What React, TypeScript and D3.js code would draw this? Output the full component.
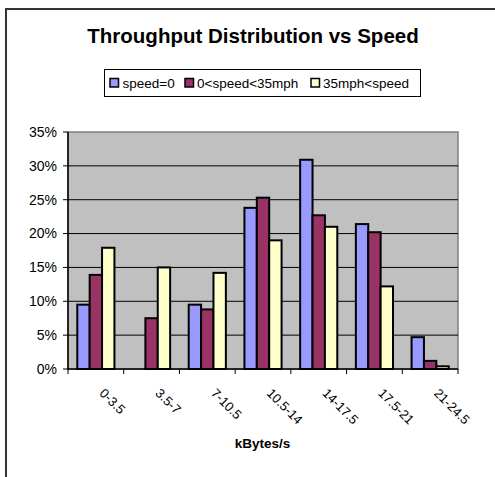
import React from "react";
import * as d3 from "d3";

const categories = ["0-3.5", "3.5-7", "7-10.5", "10.5-14", "14-17.5", "17.5-21", "21-24.5"];
const seriesNames = ["speed=0", "0<speed<35mph", "35mph<speed"];
const speed0 = [9.5, 0, 9.5, 23.8, 30.9, 21.4, 4.7];
const speedMid = [13.9, 7.5, 8.8, 25.3, 22.7, 20.2, 1.2];
const speedHigh = [17.9, 15.0, 14.2, 19.0, 21.0, 12.2, 0.4];
const seriesColors = ["#9999FF", "#993366", "#FFFFCC"];
const yTicks = [0, 5, 10, 15, 20, 25, 30, 35];

const W = 495, H = 477;
const plot = { left: 68, right: 458, top: 132, bottom: 369 };
const font = "'Liberation Sans', Arial, sans-serif";

export default function App() {
  const series = [speed0, speedMid, speedHigh];
  const x = d3.scaleBand<string>().domain(categories).range([plot.left, plot.right]).paddingInner(0).paddingOuter(0);
  const bw = x.bandwidth();
  const barW = bw / 4.5;
  const groupOffset = (bw - 3 * barW) / 2;
  const y = d3.scaleLinear().domain([0, 35]).range([plot.bottom, plot.top]);
  const boundaries = d3.range(categories.length + 1).map((i) => plot.left + i * bw);

  const legendItems = [
    { sx: 110, tx: 122.5 },
    { sx: 185, tx: 197 },
    { sx: 311, tx: 323 },
  ];

  return (
    <svg width={W} height={H} style={{ position: "absolute", left: 0, top: 0 }} fontFamily={font}>
      <rect x={0} y={0} width={W} height={H} fill="#fff" />
      <rect x={6} y={9} width={700} height={700} fill="none" stroke="#333" strokeWidth={2} />
      <text x={253} y={43} textAnchor="middle" fontSize={20.5} fontWeight="bold">Throughput Distribution vs Speed</text>

      <rect x={104.5} y={69.5} width={316} height={27} fill="#fff" stroke="#000" strokeWidth={1} />
      {legendItems.map((l, i) => (
        <g key={i}>
          <rect x={l.sx} y={78.5} width={8.5} height={8.5} fill={seriesColors[i]} stroke="#000" strokeWidth={1.5} />
          <text x={l.tx} y={87.5} fontSize={13.5}>{seriesNames[i]}</text>
        </g>
      ))}

      <rect x={plot.left} y={plot.top} width={plot.right - plot.left} height={plot.bottom - plot.top} fill="#C0C0C0" stroke="#808080" strokeWidth={1.5} />
      {yTicks.map((t) => (
        <g key={t}>
          {t > 0 && t < 35 && <line x1={plot.left} x2={plot.right} y1={y(t)} y2={y(t)} stroke="#000" strokeWidth={1} />}
          <line x1={63} x2={plot.left} y1={y(t)} y2={y(t)} stroke="#000" strokeWidth={1} />
          <text x={57} y={y(t)} dy="0.35em" textAnchor="end" fontSize={14}>{t}%</text>
        </g>
      ))}

      {categories.map((c, ci) => (
        <g key={c}>
          {series.map((s, si) => {
            const v = s[ci];
            if (v <= 0) return null;
            const bx = (x(c) as number) + groupOffset + si * barW;
            return (
              <rect key={si} x={bx} y={y(v)} width={barW} height={y(0) - y(v)} fill={seriesColors[si]} stroke="#000" strokeWidth={2} />
            );
          })}
        </g>
      ))}

      <line x1={plot.left} x2={plot.left} y1={plot.top} y2={plot.bottom} stroke="#000" strokeWidth={1.5} />
      <line x1={plot.left - 1} x2={plot.right} y1={plot.bottom} y2={plot.bottom} stroke="#000" strokeWidth={1.5} />
      {boundaries.map((bx, i) => (
        <line key={i} x1={bx} x2={bx} y1={plot.bottom} y2={plot.bottom + 5} stroke="#000" strokeWidth={1} />
      ))}

      {categories.map((c) => {
        const cx = (x(c) as number) + bw / 2 + 3;
        return (
          <text key={c} transform={`translate(${cx},${394}) rotate(45)`} fontSize={13}>{c}</text>
        );
      })}

      <text x={262.5} y={448} textAnchor="middle" fontSize={13.5} fontWeight="bold">kBytes/s</text>
    </svg>
  );
}
